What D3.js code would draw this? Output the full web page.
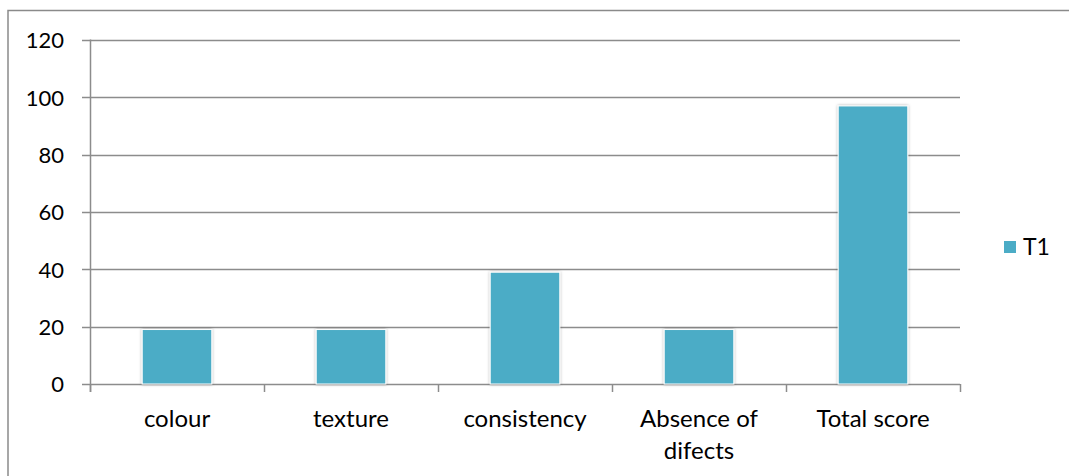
<!DOCTYPE html>
<html>
<head>
<meta charset="utf-8">
<script src="https://cdn.jsdelivr.net/npm/d3@7"></script>
<style>
  html, body { margin: 0; padding: 0; background: #fff; }
  svg { display: block; }
  text { font-family: Lato, "Open Sans", sans-serif; fill: #000; }
</style>
</head>
<body>
<svg id="chart" width="1069" height="476"></svg>
<script>
// Sensory scores per attribute for treatment T1
const categories = ["colour", "texture", "consistency", "Absence of difects", "Total score"];
const labelLines = [["colour"], ["texture"], ["consistency"], ["Absence of", "difects"], ["Total score"]];
const seriesName = "T1";
const t1Values = [19, 19, 39, 19, 97];
const yTicks = [0, 20, 40, 60, 80, 100, 120];

const svg = d3.select("#chart");
const margin = { left: 90, right: 109, top: 40, bottom: 92 };
const W = 1069, H = 476;
const barColor = "#4BACC6";
const gridColor = "#8c8c8c";

// chart frame (open on the right and bottom edges)
svg.append("path")
  .attr("d", `M8,${H + 5} V10.5 H${W + 5}`)
  .attr("fill", "none")
  .attr("stroke", "#8a8a8a")
  .attr("stroke-width", 1.5);

const x = d3.scaleBand()
  .domain(categories)
  .range([margin.left, W - margin.right])
  .paddingInner(0.6)
  .paddingOuter(0.3);

const y = d3.scaleLinear()
  .domain([0, 120])
  .range([H - margin.bottom, margin.top]);

// soft shadow around bars
const defs = svg.append("defs");
const f = defs.append("filter").attr("id", "shadow").attr("x", "-20%").attr("y", "-20%").attr("width", "140%").attr("height", "140%");
f.append("feDropShadow").attr("dx", 0).attr("dy", 0).attr("stdDeviation", 1.6).attr("flood-color", "#000").attr("flood-opacity", 0.35);

// horizontal gridlines
svg.append("g")
  .selectAll("line")
  .data(yTicks)
  .join("line")
  .attr("x1", margin.left - 8)
  .attr("x2", W - margin.right)
  .attr("y1", d => Math.round(y(d)) + 0.5)
  .attr("y2", d => Math.round(y(d)) + 0.5)
  .attr("stroke", gridColor)
  .attr("stroke-width", 1.5);

// y axis
const yAxis = d3.axisLeft(y).tickValues(yTicks).tickSize(0).tickPadding(26);
const gy = svg.append("g")
  .attr("transform", `translate(${margin.left},0)`)
  .call(yAxis);
gy.select(".domain").attr("stroke", gridColor).attr("stroke-width", 1.5)
  .attr("d", `M0.5,${y(120) - 0.5}V${y(0) + 8}`);
gy.selectAll("text").attr("font-size", 22).attr("font-family", "Lato, 'Open Sans', sans-serif").attr("fill", "#000").attr("dy", "0.36em");

// x axis boundaries and tick marks
const boundaries = d3.range(categories.length + 1).map(i => margin.left + i * (W - margin.left - margin.right) / categories.length);
svg.append("g")
  .selectAll("line")
  .data(boundaries)
  .join("line")
  .attr("x1", d => Math.round(d) + 0.5)
  .attr("x2", d => Math.round(d) + 0.5)
  .attr("y1", y(0))
  .attr("y2", y(0) + 8)
  .attr("stroke", gridColor)
  .attr("stroke-width", 1.5);

// bars
svg.append("g")
  .selectAll("rect")
  .data(t1Values)
  .join("rect")
  .attr("x", (d, i) => x(categories[i]))
  .attr("width", x.bandwidth())
  .attr("y", d => y(d))
  .attr("height", d => y(0) - y(d))
  .attr("fill", barColor)
  .attr("stroke", "#fff")
  .attr("stroke-width", 1)
  .attr("filter", "url(#shadow)");

// category labels
const labels = svg.append("g")
  .selectAll("text")
  .data(labelLines)
  .join("text")
  .attr("text-anchor", "middle")
  .attr("font-size", 24)
  .attr("x", (d, i) => x(categories[i]) + x.bandwidth() / 2)
  .attr("y", y(0) + 43);
labels.selectAll("tspan")
  .data(d => d)
  .join("tspan")
  .attr("x", function () { return d3.select(this.parentNode).attr("x"); })
  .attr("dy", (d, i) => i === 0 ? 0 : 32)
  .text(d => d);

// legend
const legend = svg.append("g").attr("transform", "translate(1004,241)");
legend.append("rect").attr("width", 12).attr("height", 12).attr("fill", barColor);
legend.append("text").attr("x", 19).attr("y", 14).attr("font-size", 23).text(seriesName);
</script>
</body>
</html>
